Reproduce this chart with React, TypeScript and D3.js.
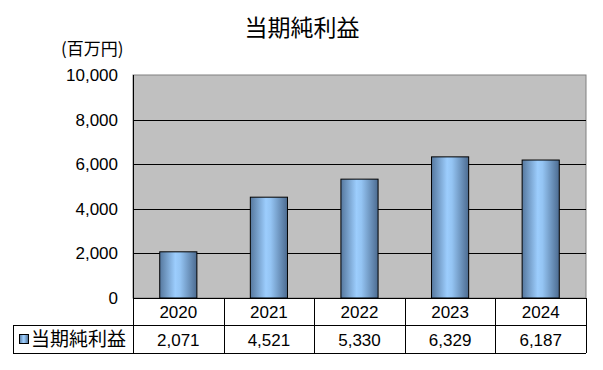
import React from "react";
import * as d3 from "d3";

const title = "当期純利益";
const unitLabel = "(百万円)";
const years = ["2020", "2021", "2022", "2023", "2024"];
const profits = [2071, 4521, 5330, 6329, 6187];
const yTicks = [0, 2000, 4000, 6000, 8000, 10000];

const W = 603;
const H = 370;
const plot = { left: 133, right: 586, top: 75, bottom: 298 };
const rowH = 27;
const legendLeft = 13;
const cjk = "'Noto Sans CJK JP', sans-serif";
const num = "'Liberation Sans', Arial, sans-serif";

const App = () => {
  const x = d3.scaleBand().domain(years).range([plot.left, plot.right]).paddingInner(0.59).paddingOuter(0.295);
  const y = d3.scaleLinear().domain([0, 10000]).range([plot.bottom, plot.top]);
  const fmt = d3.format(",");
  const step = x.step();
  const cellLeft = (i: number) => plot.left + i * (plot.right - plot.left) / years.length;
  const row1 = plot.bottom;
  const row2 = plot.bottom + rowH;
  const row3 = plot.bottom + rowH * 2 + 1;

  return (
    <svg width={W} height={H} style={{ display: "block", position: "absolute", left: 0, top: 0 }}>
      <defs>
        <linearGradient id="barGrad" x1="0" x2="1" y1="0" y2="0">
          <stop offset="0" stopColor="#56789e" />
          <stop offset="0.42" stopColor="#9ccdfd" />
          <stop offset="0.55" stopColor="#94c4f3" />
          <stop offset="1" stopColor="#4c6b90" />
        </linearGradient>
      </defs>
      <rect width={W} height={H} fill="#fff" />
      <text x={302} y={36} textAnchor="middle" fontSize={23} fontFamily={cjk} fill="#000">
        {title}
      </text>
      <text x={61} y={55} fontSize={17} fontFamily={cjk} fill="#000">
        {unitLabel}
      </text>

      {/* plot area */}
      <rect x={plot.left} y={plot.top} width={plot.right - plot.left} height={plot.bottom - plot.top}
        fill="#c0c0c0" stroke="#808080" strokeWidth={1} />
      {yTicks.filter(t => t > 0 && t < 10000).map(t => (
        <line key={t} x1={plot.left} x2={plot.right} y1={Math.round(y(t)) + 0.5} y2={Math.round(y(t)) + 0.5}
          stroke="#000" strokeWidth={1} />
      ))}
      <line x1={plot.left + 0.5} x2={plot.left + 0.5} y1={plot.top} y2={plot.bottom} stroke="#000" />

      {yTicks.map(t => (
        <text key={t} x={118} y={y(t) + 6} textAnchor="end" fontSize={17} fontFamily={num} fill="#000">
          {fmt(t)}
        </text>
      ))}

      {profits.map((v, i) => (
        <rect key={years[i]} x={x(years[i])} y={y(v)} width={x.bandwidth()} height={y(0) - y(v)}
          fill="url(#barGrad)" stroke="#000" strokeWidth={1} />
      ))}

      {/* data table */}
      <g fill="none" stroke="#000" strokeWidth={1}>
        <line x1={plot.left} x2={plot.right} y1={row1 + 0.5} y2={row1 + 0.5} />
        <line x1={legendLeft} x2={plot.right} y1={row2 + 0.5} y2={row2 + 0.5} />
        <line x1={legendLeft} x2={plot.right} y1={row3 + 0.5} y2={row3 + 0.5} />
        <line x1={legendLeft + 0.5} x2={legendLeft + 0.5} y1={row2} y2={row3} />
        {d3.range(years.length + 1).map(i => (
          <line key={i} x1={Math.round(cellLeft(i)) + 0.5} x2={Math.round(cellLeft(i)) + 0.5} y1={row1} y2={row3} />
        ))}
      </g>
      {years.map((yr, i) => (
        <text key={yr} x={cellLeft(i) + step / 2} y={row1 + 20} textAnchor="middle" fontSize={17} fontFamily={num} fill="#000">
          {yr}
        </text>
      ))}
      {profits.map((v, i) => (
        <text key={years[i]} x={cellLeft(i) + step / 2} y={row2 + 21} textAnchor="middle" fontSize={17} fontFamily={num} fill="#000">
          {fmt(v)}
        </text>
      ))}
      <rect x={19.5} y={row2 + 9.5} width={9} height={9} fill="url(#barGrad)" stroke="#000" />
      <text x={31} y={row2 + 21} fontSize={19} fontFamily={cjk} fill="#000">
        {title}
      </text>
    </svg>
  );
};

export default App;
